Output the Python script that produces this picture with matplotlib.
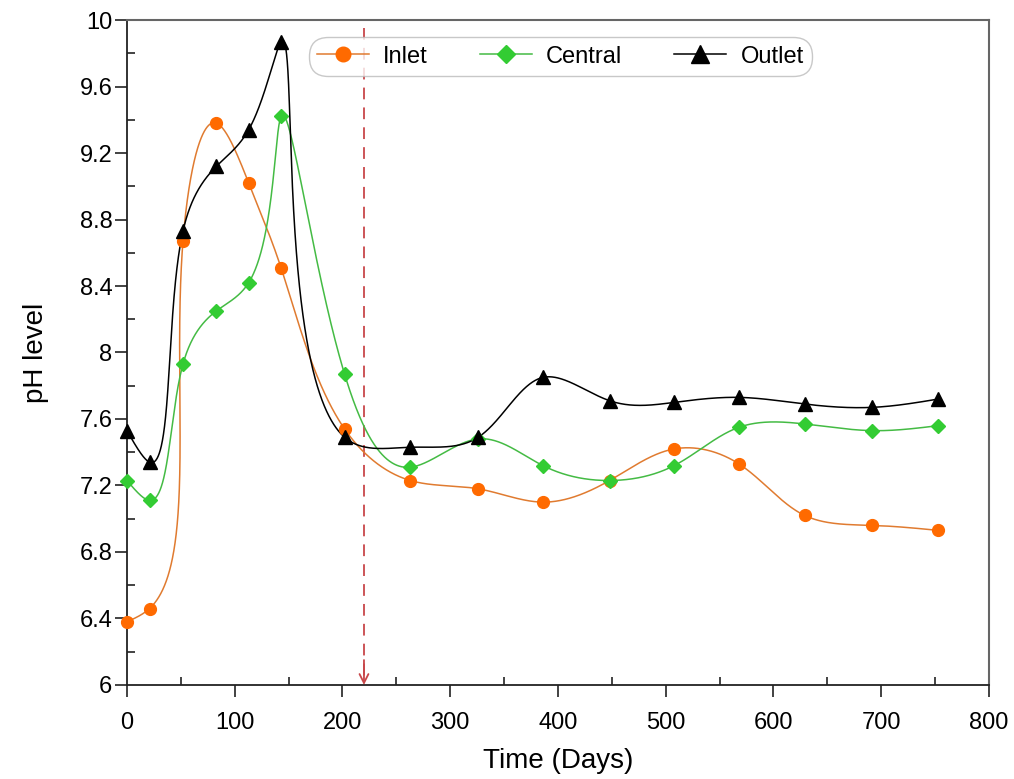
import numpy as np
import matplotlib
matplotlib.use("Agg")
import matplotlib.pyplot as plt
from matplotlib.ticker import MultipleLocator, FuncFormatter

plt.rcParams['font.family'] = ['Liberation Sans', 'DejaVu Sans']

days = [0, 21, 52, 83, 113, 143, 202, 263, 326, 386, 448, 508, 568, 629, 692, 753]
inlet = [6.38, 6.46, 8.67, 9.38, 9.02, 8.51, 7.54, 7.23, 7.18, 7.10, 7.23, 7.42, 7.33, 7.02, 6.96, 6.93]
central = [7.23, 7.11, 7.93, 8.25, 8.42, 9.42, 7.87, 7.31, 7.48, 7.32, 7.23, 7.32, 7.55, 7.57, 7.53, 7.56]
outlet = [7.53, 7.34, 8.73, 9.12, 9.34, 9.87, 7.49, 7.43, 7.49, 7.85, 7.71, 7.70, 7.73, 7.69, 7.67, 7.72]
marker_day = 220

AX_W, AX_H = 862.0, 665.0


def natural_spline(t, y, tt):
    n = len(t)
    h = np.diff(t)
    A = np.zeros((n, n))
    b = np.zeros(n)
    A[0, 0] = 1
    A[-1, -1] = 1
    for i in range(1, n - 1):
        A[i, i - 1] = h[i - 1]
        A[i, i] = 2 * (h[i - 1] + h[i])
        A[i, i + 1] = h[i]
        b[i] = 3 * ((y[i + 1] - y[i]) / h[i] - (y[i] - y[i - 1]) / h[i - 1])
    c = np.linalg.solve(A, b)
    out = np.empty_like(tt)
    for k, v in enumerate(tt):
        i = int(np.clip(np.searchsorted(t, v, side='right') - 1, 0, n - 2))
        dx = v - t[i]
        bb = (y[i + 1] - y[i]) / h[i] - h[i] * (2 * c[i] + c[i + 1]) / 3
        d = (c[i + 1] - c[i]) / (3 * h[i])
        out[k] = y[i] + bb * dx + c[i] * dx ** 2 + d * dx ** 3
    return out


def smooth(x, y, alpha=0.75):
    # parametric spline drawn through the points (screen-space parameterisation)
    px = np.asarray(x, float) / 800 * AX_W
    py = (np.asarray(y, float) - 6) / 4 * AX_H
    t = np.concatenate([[0], np.cumsum(np.hypot(np.diff(px), np.diff(py)) ** alpha)])
    tt = np.linspace(0, t[-1], 4000)
    return natural_spline(t, px, tt) / AX_W * 800, natural_spline(t, py, tt) / AX_H * 4 + 6


fig = plt.figure(figsize=(10.14, 7.79), dpi=100)
ax = fig.add_axes([0.1252, 0.1207, 0.85, 0.8536])

series = [
    ('Inlet', inlet, 'o', '#FF6A00', '#E07B30', 8.5),
    ('Central', central, 'D', '#33CC33', '#44BB44', 7.5),
    ('Outlet', outlet, '^', '#000000', '#000000', 10.5),
]
for name, vals, mk, mc, lc, ms in series:
    sx, sy = smooth(days, vals)
    ax.plot(sx, sy, color=lc, lw=1.1, zorder=2, clip_on=False)
    ax.plot(days, vals, ls='none', marker=mk, color=mc, ms=ms, zorder=3, clip_on=False)
    ax.plot([], [], color=lc, lw=1.1, marker=mk, mfc=mc, mec=mc, ms=ms + 2, label=name)

arrow_color = '#C8474A'
ax.plot([marker_day, marker_day], [9.95, 6.02], color=arrow_color, lw=1.3,
        ls=(0, (6.5, 4.5)), zorder=1)
ax.annotate('', xy=(marker_day, 6.0), xytext=(marker_day, 6.15),
            arrowprops=dict(arrowstyle='->', color=arrow_color, lw=1.3,
                            shrinkA=0, shrinkB=0, mutation_scale=16), zorder=1)

ax.set_xlim(0, 800)
ax.set_ylim(6, 10)
ax.xaxis.set_major_locator(MultipleLocator(100))
ax.xaxis.set_minor_locator(MultipleLocator(50))
ax.yaxis.set_major_locator(MultipleLocator(0.4))
ax.yaxis.set_minor_locator(MultipleLocator(0.2))
ax.yaxis.set_major_formatter(FuncFormatter(lambda v, p: ('%.1f' % v).rstrip('0').rstrip('.')))
ax.tick_params(which='major', direction='out', length=8.5, width=1.2, labelsize=17,
               colors='#222222', labelcolor='black')
ax.tick_params(which='minor', direction='in', length=6, width=1.2, colors='#222222')
ax.tick_params(axis='x', which='major', pad=11)
ax.tick_params(axis='y', which='major', pad=2)
ax.tick_params(top=False, right=False, which='both')
for s in ['left', 'bottom']:
    ax.spines[s].set_color('#222222')
    ax.spines[s].set_linewidth(1.3)
for s in ['top', 'right']:
    ax.spines[s].set_color('#666666')
    ax.spines[s].set_linewidth(1.5)

ax.set_xlabel('Time (Days)', fontsize=20, labelpad=10)
ax.set_ylabel('pH level', fontsize=20, labelpad=22)

leg = ax.legend(loc='upper center', bbox_to_anchor=(0.503, 0.99), ncol=3, fontsize=17,
                frameon=True, fancybox=True, edgecolor='#BBBBBB', handlelength=2.2,
                columnspacing=2.2, borderpad=0.3, handletextpad=0.6)
leg.get_frame().set_linewidth(1.0)
leg.get_frame().set_boxstyle('round', pad=0.05, rounding_size=0.8)

fig.savefig('out.png', dpi=100)
